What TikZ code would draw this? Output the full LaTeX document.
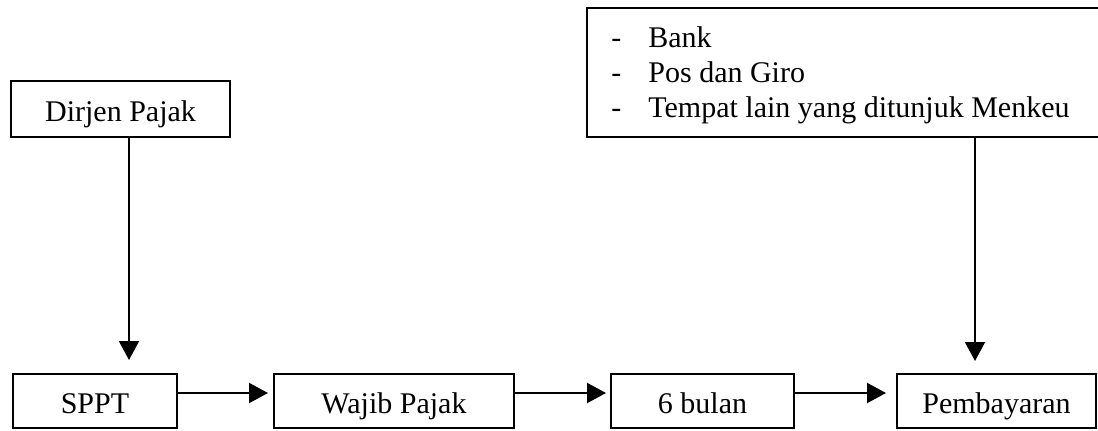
\documentclass[tikz,border=0pt]{standalone}
\usepackage{fontspec}
\setmainfont{Liberation Serif}
\usepackage{tikz}
\usetikzlibrary{arrows.meta}

\begin{document}
\begin{tikzpicture}[
    x=0.5pt, y=-0.5pt,
    kotak/.style={draw, line width=1pt, inner sep=0pt, text height=12pt, text depth=0pt,
        font=\fontsize{15}{17.5}\selectfont},
    teks/.style={inner sep=0pt, anchor=base west, font=\fontsize{15}{17.5}\selectfont},
    panah/.style={line width=1pt, -{Triangle[length=9.5pt,width=10pt]}},
]
    \useasboundingbox (0,0) rectangle (1098,430);
    % kotak atas
    \node[kotak, minimum width=109.5pt, minimum height=28pt] (dirjen) at (120.5,109) {Dirjen Pajak};
    \node[kotak, minimum width=262pt, minimum height=64.5pt] (lokasi) at (849,72.5) {};
    \foreach \isi[
        count=\n,
        evaluate=\n as \baris using int(12+35*\n),
    ] in {Bank, Pos dan Giro, Tempat lain yang ditunjuk Menkeu}{
            \node[teks] (strip\n) at (611,\baris) {-};
            \node[teks] (item\n) at (648,\baris) {\isi};
        }
    % baris bawah
    \node[kotak, minimum width=82pt, minimum height=27pt] (sppt) at (95,401) {SPPT};
    \node[kotak, minimum width=120pt, minimum height=27pt] (wajib) at (394,401) {Wajib Pajak};
    \node[kotak, minimum width=91.5pt, minimum height=27pt] (bulan) at (702.5,401) {6 bulan};
    \node[kotak, minimum width=99.5pt, minimum height=27pt] (bayar) at (996.5,401) {Pembayaran};
    % panah
    \foreach \a/\b/\s in {sppt/wajib/2.5, wajib/bulan/2, bulan/bayar/5}{
            \draw[panah, shorten >=\s pt] ([yshift=4pt]\a.east) -- ([yshift=4pt]\b.west);
        }
    \coordinate (kiri) at ([xshift=4.25pt]dirjen.south);
    \draw[panah, shorten >=6.5pt] (kiri) -- (kiri |- sppt.north);
    \coordinate (kanan) at ([xshift=-10.75pt]bayar.north);
    \draw[panah, shorten >=6pt] (kanan |- lokasi.south) -- (kanan);
\end{tikzpicture}
\end{document}
